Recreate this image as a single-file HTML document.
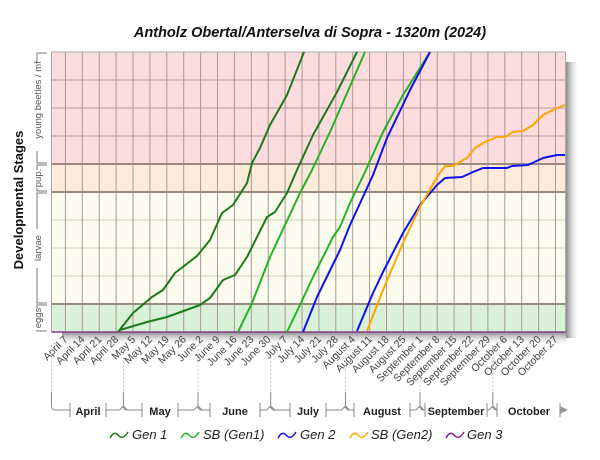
<!DOCTYPE html>
<html><head><meta charset="utf-8"><style>
body{margin:0;background:#fff;}
svg{display:block;font-family:"Liberation Sans",sans-serif;}
</style></head><body>
<svg width="600" height="460" viewBox="0 0 600 460">
<defs>
<linearGradient id="sr" x1="0" x2="1"><stop offset="0" stop-color="#888"/><stop offset="1" stop-color="#fff" stop-opacity="0"/></linearGradient>
<linearGradient id="sb" x1="0" y1="0" x2="0" y2="1"><stop offset="0" stop-color="#888"/><stop offset="1" stop-color="#fff" stop-opacity="0"/></linearGradient>
</defs>
<text x="310" y="37" text-anchor="middle" font-size="14.5" font-weight="bold" font-style="italic" fill="#111">Antholz Obertal/Anterselva di Sopra - 1320m (2024)</text>
<rect x="566" y="62" width="14" height="276" fill="url(#sr)"/>
<rect x="62" y="332" width="504" height="14" fill="url(#sb)"/>
<rect x="51.5" y="52" width="514" height="112" fill="#fcdcdc"/>
<rect x="51.5" y="164" width="514" height="28" fill="#fcebda"/>
<rect x="51.5" y="192" width="514" height="112" fill="#fcfcee"/>
<rect x="51.5" y="304" width="514" height="28" fill="#d9f1d6"/>
<g stroke-width="1">
<g stroke="#b89a9a">
<line x1="51.5" y1="80" x2="565.5" y2="80"/><line x1="51.5" y1="108" x2="565.5" y2="108"/><line x1="51.5" y1="136" x2="565.5" y2="136"/>
</g>
<g stroke="#cfcfb8">
<line x1="51.5" y1="220" x2="565.5" y2="220"/><line x1="51.5" y1="248" x2="565.5" y2="248"/><line x1="51.5" y1="276" x2="565.5" y2="276"/>
</g>
<g id="vg" stroke="#a89898"></g>
<g stroke="#9a8a80" stroke-width="2">
<line x1="51.5" y1="164" x2="565.5" y2="164"/><line x1="51.5" y1="192" x2="565.5" y2="192"/><line x1="51.5" y1="304" x2="565.5" y2="304"/>
</g>
<line x1="51.5" y1="52" x2="565.5" y2="52" stroke="#aaa"/>
<line x1="51.5" y1="52" x2="51.5" y2="332" stroke="#aaa"/>
<line x1="565.5" y1="52" x2="565.5" y2="332" stroke="#aaa"/>
<line x1="51.5" y1="332" x2="565.5" y2="332" stroke="#8a3a8a" stroke-width="1.5"/>
</g>
<g fill="none" stroke-width="2" stroke-linejoin="round">
<polyline stroke="#1b7a1b" points="118,332 133,313 152,297 163,290 175,273 197,256 210,240 222,213 233,205 247,183 252,163 260,148 270,125 287,95 304,52"/>
<polyline stroke="#1b7a1b" points="120,330 147,322 167,317 200,305 210,298 223,280 235,275 247,257 267,217 275,212 287,193 297,170 313,135 337,92 357,52"/>
<polyline stroke="#22b422" points="238,332 252,303 270,257 300,193 312,170 330,132 365,52"/>
<polyline stroke="#22b422" points="287,332 300,305 313,277 333,237 340,227 350,203 365,172 383,132 403,95 430,52"/>
<polyline stroke="#1010ee" points="303,332 317,297 340,250 350,225 373,175 387,138 410,90 430,52"/>
<polyline stroke="#1010ee" points="357,331 373,293 383,272 403,233 420,205 437,185 445,178 462,177 473,172 483,168 507,168 512,166 528,165 543,158 557,155 565,155"/>
<polyline stroke="#ffa500" points="367,331 383,290 403,243 420,207 437,177 445,166 453,166 467,158 475,148 485,142 497,137 505,137 513,132 523,131 533,125 543,115 553,110 565,105"/>
</g>
<text transform="translate(23,200) rotate(-90)" text-anchor="middle" font-size="13" font-weight="bold" fill="#111">Developmental Stages</text>
<g font-size="9.5" fill="#555" text-anchor="middle">
<text transform="translate(41,100) rotate(-90)">young beetles / mf</text>
<text transform="translate(41,178) rotate(-90)">pup.</text>
<text transform="translate(41,248) rotate(-90)">larvae</text>
<text transform="translate(41,318) rotate(-90)">eggs</text>
</g>
<g stroke="#777" fill="none">
<path d="M47,53 h-10 v10 M37,151 v12 h10"/>
<path d="M47,165 h-10 v5 M37,188 v3 h10"/>
<path d="M47,193 h-10 v36 M37,268 v35 h10"/>
<path d="M47,305 h-10 v3 M37,330 v1 h10"/>
</g>
<g id="xl" font-size="10.5" fill="#444" text-anchor="end"></g>
<g id="dl" stroke="#ccc" stroke-dasharray="2,2"></g>
<g stroke="#888" fill="none" id="mb"></g>
<g font-size="11" font-weight="bold" fill="#222" text-anchor="middle">
<text x="88" y="415">April</text><text x="160" y="415">May</text><text x="235" y="415">June</text>
<text x="308" y="415">July</text><text x="382" y="415">August</text><text x="456" y="415">September</text><text x="529" y="415">October</text>
</g>
<path d="M560,406 l8,4 l-8,4 z" fill="#999"/>
<g fill="none" stroke-width="1.5">
<path d="M110,438 q4,-8 9,-2 q4,4 9,-4" stroke="#1b7a1b"/>
<path d="M181,438 q4,-8 9,-2 q4,4 9,-4" stroke="#22b422"/>
<path d="M278,438 q4,-8 9,-2 q4,4 9,-4" stroke="#1010ee"/>
<path d="M350,438 q4,-8 9,-2 q4,4 9,-4" stroke="#ffa500"/>
<path d="M446,438 q4,-8 9,-2 q4,4 9,-4" stroke="#8a1a8a"/>
</g>
<g font-size="13" font-style="italic" fill="#222">
<text x="132" y="439">Gen 1</text><text x="203" y="439">SB (Gen1)</text><text x="300" y="439">Gen 2</text><text x="371" y="439">SB (Gen2)</text><text x="467" y="439">Gen 3</text>
</g>
</svg>
<script>
const ns="http://www.w3.org/2000/svg";
const vg=document.getElementById('vg'),xl=document.getElementById('xl'),dl=document.getElementById('dl'),mb=document.getElementById('mb');
const labs=["April 7","April 14","April 21","April 28","May 5","May 12","May 19","May 26","June 2","June 9","June 16","June 23","June 30","July 7","July 14","July 21","July 28","August 4","August 11","August 18","August 25","September 1","September 8","September 15","September 22","September 29","October 6","October 13","October 20","October 27"];
labs.forEach((l,i)=>{const x=65.4+16.9*i;
 const ln=document.createElementNS(ns,'line');ln.setAttribute('x1',x);ln.setAttribute('x2',x);ln.setAttribute('y1',52);ln.setAttribute('y2',332);vg.appendChild(ln);
 const t=document.createElementNS(ns,'text');t.setAttribute('transform',`translate(${x+3},${340}) rotate(-45)`);t.textContent=l;xl.appendChild(t);});
const ms=[51.5,123.4,198,270.7,345.5,420,492.8,565];
const lab=[[70,106],[142,178],[210,260],[290,326],[354,410],[425,487],[497,560]];
ms.slice(0,7).forEach((x,i)=>{const d=document.createElementNS(ns,'line');d.setAttribute('x1',x);d.setAttribute('x2',x);d.setAttribute('y1',345);d.setAttribute('y2',392);dl.appendChild(d);});
let p="";
for(let i=0;i<7;i++){const a=ms[i],b=ms[i+1],[l,r]=lab[i];
 p+=`M${a},392 v14 q0,4 4,4 H${l} M${l},403 v14 M${r},403 v14 M${r},410 H${i<6?b-4:560} `;
 if(i<6)p+=`M${b-4},410 l4,-4 l4,4 `;}
const pa=document.createElementNS(ns,'path');pa.setAttribute('d',p);mb.appendChild(pa);
</script>
</body></html>
